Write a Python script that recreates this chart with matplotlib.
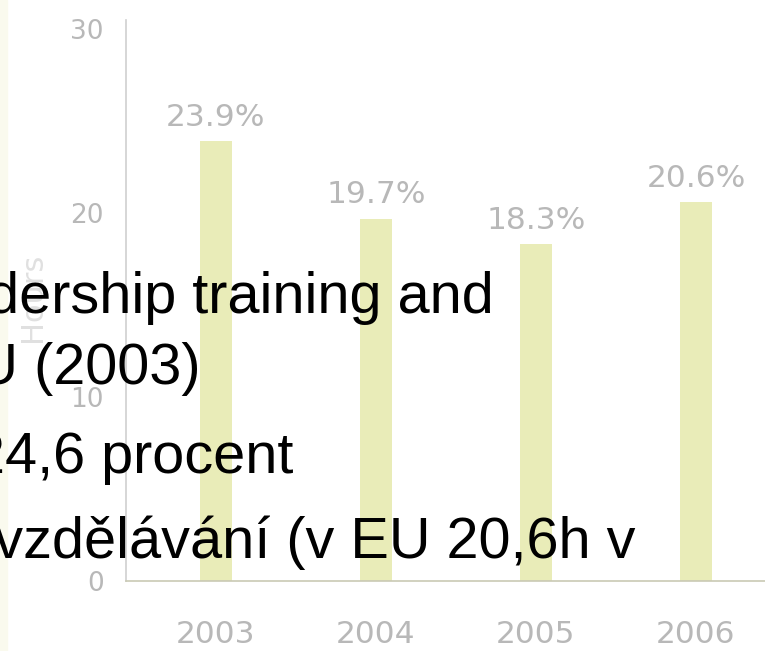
import numpy as np
import matplotlib.pyplot as plt

# data
years = ["2003", "2004", "2005", "2006"]
hours = [23.9, 19.7, 18.3, 20.6]
pct_labels = ["23.9%", "19.7%", "18.3%", "20.6%"]
yticks = [0, 10, 20, 30]

# overlaid slide text (cropped on the left in the original)
slide_lines = [
    "leadership training and",
    "v EU (2003)",
    "24,6 procent",
    "na vzdělávání (v EU 20,6h v",
]

W, H = 765, 651
fig = plt.figure(figsize=(W / 100, H / 100), dpi=100)

# faint slide border on the far left
fig.patches.append(plt.Rectangle((0, 0), 7 / W, 1, transform=fig.transFigure,
                                 color="#fafaee", zorder=0))

ax = fig.add_axes([126 / W, 1 - 581 / H, 1 - 126 / W, 561 / H])
x = np.arange(len(years))
ax.bar(x, hours, width=0.2, color="#e9ecb8", zorder=2)

ax.set_xlim(-0.5625, -0.5625 + (W - 126) / 160)
ax.set_ylim(0, 30.5)

for xi, h, lab in zip(x, hours, pct_labels):
    ax.annotate(lab, (xi, h), xytext=(0, 11), textcoords="offset points",
                ha="center", va="baseline", fontsize=22.5, color="#b8b8b8",
                family="DejaVu Sans")

ax.set_xticks(x)
ax.set_xticklabels(years, fontsize=22.5, color="#b8b8b8")
ax.set_yticks(yticks)
ax.set_yticklabels([str(t) for t in yticks], fontsize=19, color="#b8b8b8")
ax.tick_params(axis="x", length=0, pad=28)
ax.tick_params(axis="y", length=0, pad=16)

for s in ["top", "right"]:
    ax.spines[s].set_visible(False)
ax.spines["left"].set_color("#cfcfcf")
ax.spines["bottom"].set_color("#c9c9b4")
ax.spines["left"].set_linewidth(1.2)
ax.spines["bottom"].set_linewidth(1.2)

fig.text(33 / W, 1 - 297 / H, "Hours", rotation=90, ha="center", va="center",
         fontsize=22, color="#e0e0e0")

# the big black text sits on top of everything
right_edges = [494, 201, 293, 635]
baselines = [313, 384, 473, 558]
for txt, xr, yb in zip(slide_lines, right_edges, baselines):
    fig.text(xr / W, 1 - yb / H, txt, ha="right", va="baseline",
             fontsize=41.5, color="black", family="Liberation Sans", zorder=10)

plt.savefig("out.png", dpi=100)
